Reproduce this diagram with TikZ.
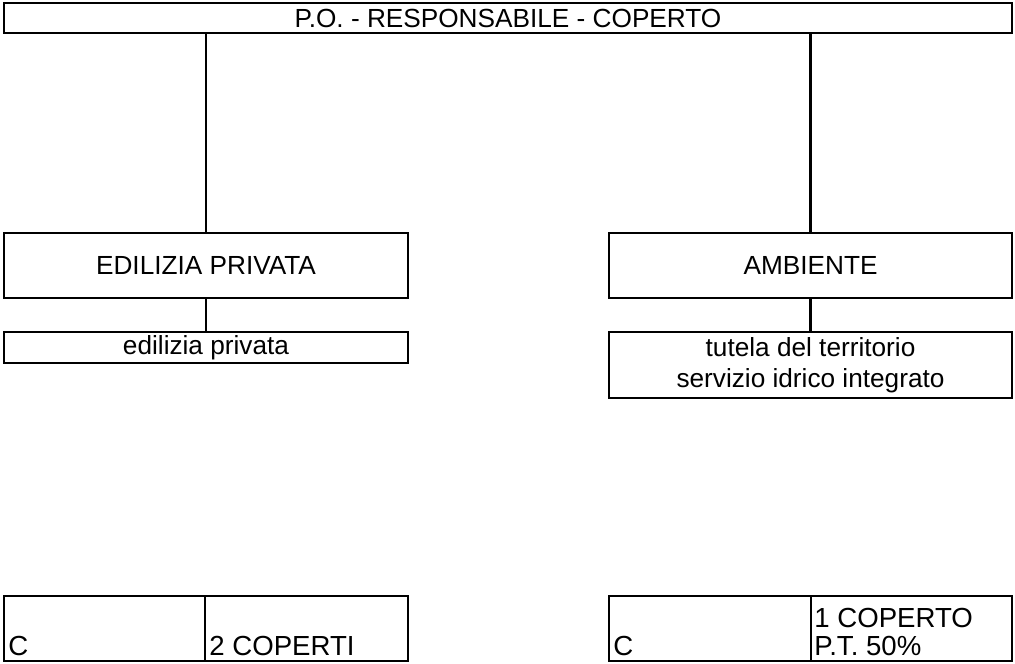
\documentclass[tikz,border=0pt]{standalone}
\usepackage{fontspec}
\setmainfont{Liberation Sans}
\usetikzlibrary{positioning}
\tikzset{%
	every box/.style={
		draw,
		line width=1.4pt,
		inner sep=0pt,
		align=center,
		font=\fontsize{13.1}{15.5}\selectfont
	},
	cell text/.style={
		inner sep=0pt,
		anchor=base west,
		align=left,
		font=\fontsize{13.8}{14}\selectfont
	},
}
\begin{document}
\begin{tikzpicture}[x=0.5pt, y=-0.5pt]
			\useasboundingbox (0,0) rectangle (1015,663);
			\node[every box, minimum width=504pt, minimum height=15pt] (T) at (508,18) {P.O. - RESPONSABILE - COPERTO};
			
			\node[every box, minimum width=202pt, minimum height=32.5pt] (EP) at (206,265.5) {EDILIZIA PRIVATA};
			\node[every box, minimum width=201.5pt, minimum height=32.5pt] (AM) at (810.5,265.5) {AMBIENTE};
			
			\node[every box, minimum width=202pt, minimum height=15.5pt] (EPs) at (206,347.5) {edilizia privata};
			\node[every box, minimum width=201.5pt, minimum height=33pt] (AMs) at (810.5,365) {tutela del territorio\\servizio idrico integrato};
			
			\draw[line width=1.4pt] (EP.north) -- (EP.north |- T.south);
			\draw[line width=1.4pt] (AM.north) -- (AM.north |- T.south);
			\draw[line width=1.4pt] (EP.south) -- (EPs.north);
			\draw[line width=1.4pt] (AM.south) -- (AMs.north);
			
			% bottom cells
			\node[every box, minimum width=100.5pt, minimum height=32.5pt] (L1) at (104.5,628.5) {};
			\node[every box, minimum width=101.5pt, minimum height=32.5pt] (L2) at (306.5,628.5) {};
			\node[every box, minimum width=101pt, minimum height=32.5pt] (R1) at (710,628.5) {};
			\node[every box, minimum width=100.5pt, minimum height=32.5pt] (R2) at (911.5,628.5) {};
			
			\node[cell text] (L1t) at (8,655) {C};
			\node[cell text] (L2t) at (209,655) {2 COPERTI};
			\node[cell text] (R1t) at (613,655) {C};
			\node[cell text] (R2a) at (814,627) {1 COPERTO};
			\node[cell text] (R2b) at (814,655) {P.T. 50\%};
			
			
		\end{tikzpicture}
\end{document}
